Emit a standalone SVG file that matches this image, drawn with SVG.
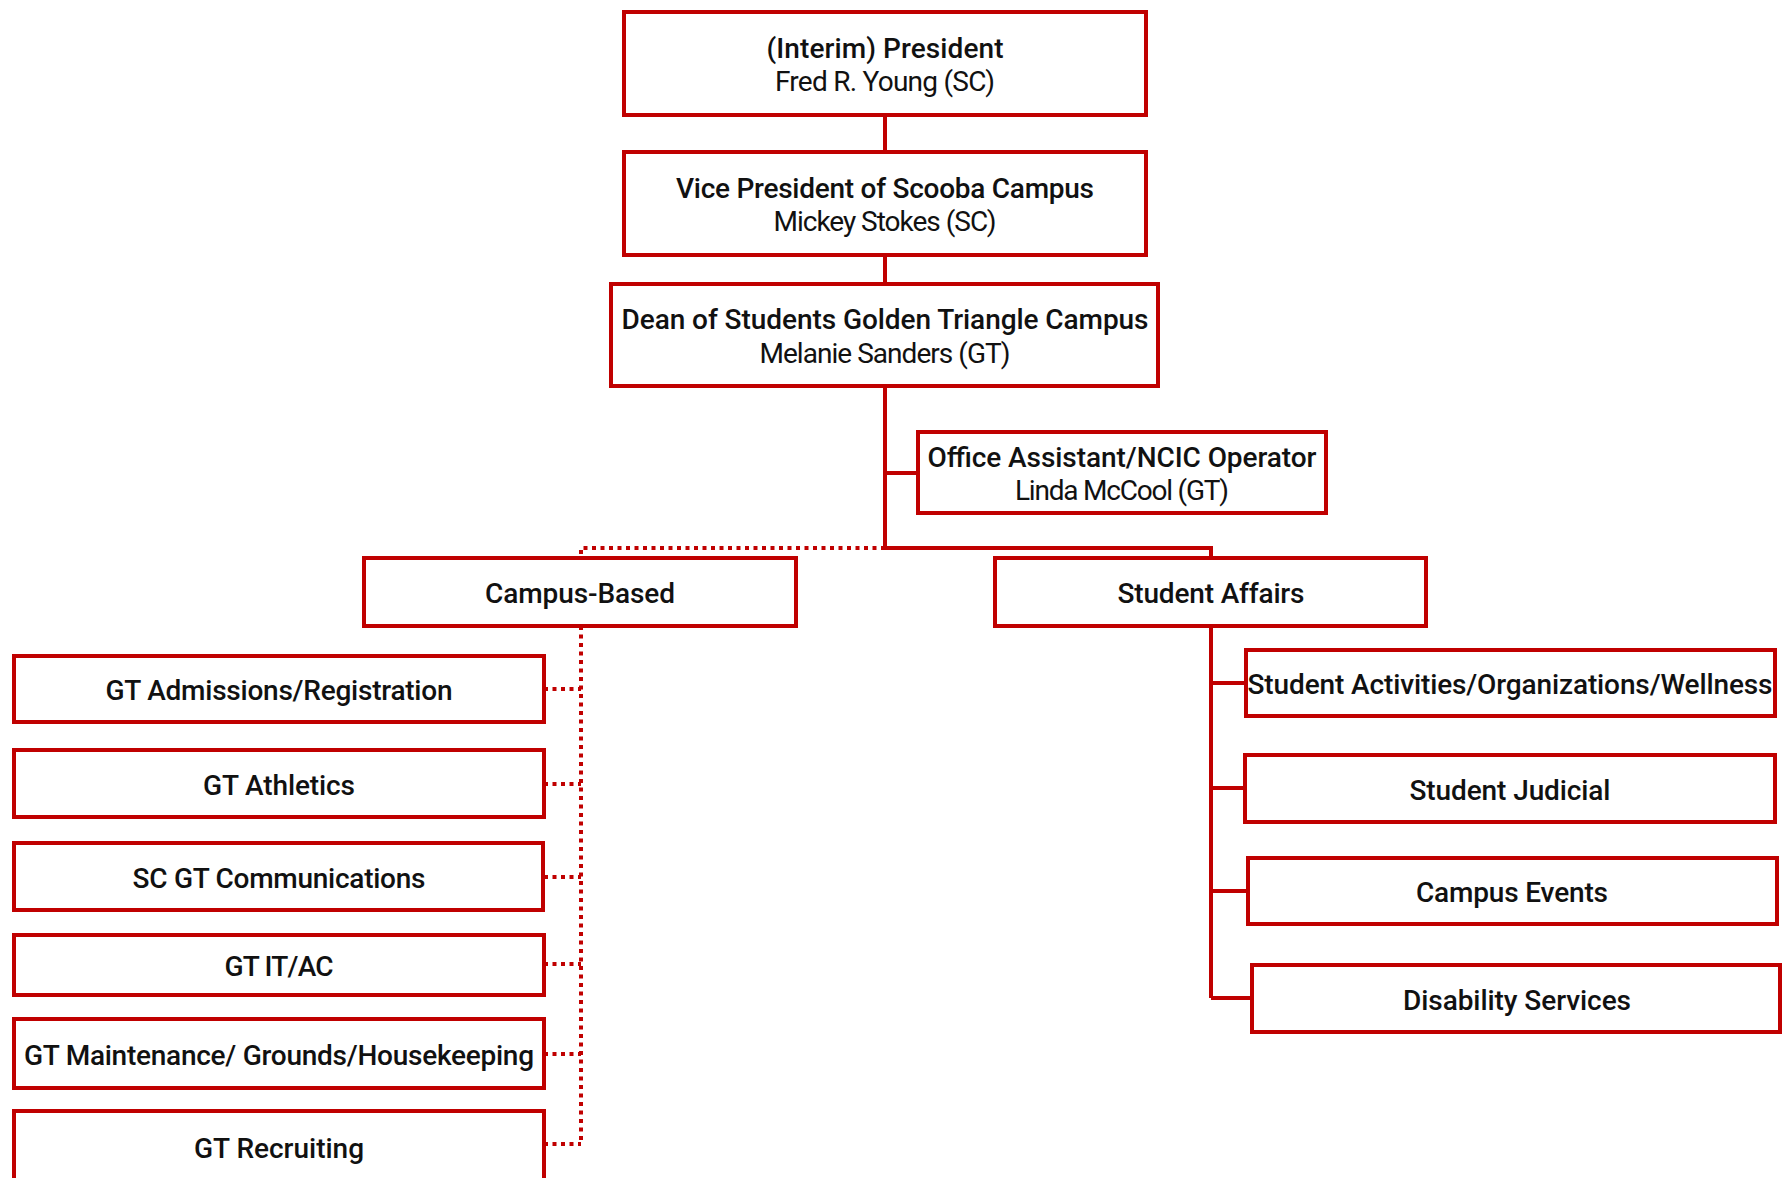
<svg xmlns="http://www.w3.org/2000/svg" width="1782" height="1178" viewBox="0 0 1782 1178">
<style>
.box{fill:#fff;stroke:#c00000;stroke-width:4}
.t{font-family:"Roboto","Liberation Sans",sans-serif;font-size:28px;fill:#111;text-anchor:middle;font-weight:500}
.n{font-family:"Roboto","Liberation Sans",sans-serif;font-size:28px;fill:#111;text-anchor:middle;font-weight:400}
.solid{fill:none;stroke:#c00000;stroke-width:4}
.dot{fill:none;stroke:#c00000;stroke-width:4;stroke-dasharray:4 4.5}
</style>
<rect width="1782" height="1178" fill="#fff"/>
<g id="connectors">
<path class="solid" d="M885 115V152M885 255V284M885 386V548M885 473H918M885 548H1211V558M1211 626V998M1211 683H1246M1211 788H1245M1211 891H1248M1211 998H1252"/>
<path class="dot" d="M885 548H581V558M581 626V1144M544 689H581M544 784H581M544 877H581M544 964H581M544 1054H581M544 1144H581"/>
</g>
<g id="president"><rect class="box" x="624" y="12" width="522" height="103"/>
<text class="t" x="885" y="57.5" textLength="237">(Interim) President</text>
<text class="n" x="885" y="91" textLength="220">Fred R. Young (SC)</text></g>
<g id="vice-president"><rect class="box" x="624" y="152" width="522" height="103"/>
<text class="t" x="885" y="197.5" textLength="418">Vice President of Scooba Campus</text>
<text class="n" x="885" y="231" textLength="223">Mickey Stokes (SC)</text></g>
<g id="dean"><rect class="box" x="611" y="284" width="547" height="102"/>
<text class="t" x="885" y="329" textLength="527">Dean of Students Golden Triangle Campus</text>
<text class="n" x="885" y="362.5" textLength="251">Melanie Sanders (GT)</text></g>
<g id="office-assistant"><rect class="box" x="918" y="432" width="408" height="81"/>
<text class="t" x="1122" y="466.5" textLength="389">Office Assistant/NCIC Operator</text>
<text class="n" x="1122" y="499.5" textLength="214">Linda McCool (GT)</text></g>
<g id="campus-based"><rect class="box" x="364" y="558" width="432" height="68"/>
<text class="t" x="580" y="603" textLength="190">Campus-Based</text></g>
<g id="student-affairs"><rect class="box" x="995" y="558" width="431" height="68"/>
<text class="t" x="1211" y="603" textLength="187">Student Affairs</text></g>
<g id="admissions"><rect class="box" x="14" y="656" width="530" height="66"/>
<text class="t" x="279" y="700" textLength="347">GT Admissions/Registration</text></g>
<g id="athletics"><rect class="box" x="14" y="750" width="530" height="67"/>
<text class="t" x="279" y="794.5" textLength="152">GT Athletics</text></g>
<g id="communications"><rect class="box" x="14" y="843" width="529" height="67"/>
<text class="t" x="279" y="887.5" textLength="293">SC GT Communications</text></g>
<g id="it-ac"><rect class="box" x="14" y="935" width="530" height="60"/>
<text class="t" x="279" y="976" textLength="109">GT IT/AC</text></g>
<g id="maintenance"><rect class="box" x="14" y="1019" width="530" height="69"/>
<text class="t" x="279" y="1064.5" textLength="510">GT Maintenance/ Grounds/Housekeeping</text></g>
<g id="recruiting"><rect class="box" x="14" y="1111" width="530" height="69"/>
<text class="t" x="279" y="1157.5" textLength="170">GT Recruiting</text></g>
<g id="student-activities"><rect class="box" x="1246" y="650" width="529" height="66"/>
<text class="t" x="1510" y="694" textLength="525">Student Activities/Organizations/Wellness</text></g>
<g id="student-judicial"><rect class="box" x="1245" y="755" width="530" height="67"/>
<text class="t" x="1510" y="799.5" textLength="201">Student Judicial</text></g>
<g id="campus-events"><rect class="box" x="1248" y="858" width="529" height="66"/>
<text class="t" x="1512" y="902" textLength="192">Campus Events</text></g>
<g id="disability-services"><rect class="box" x="1252" y="965" width="528" height="67"/>
<text class="t" x="1517" y="1009.5" textLength="228">Disability Services</text></g>
</svg>
